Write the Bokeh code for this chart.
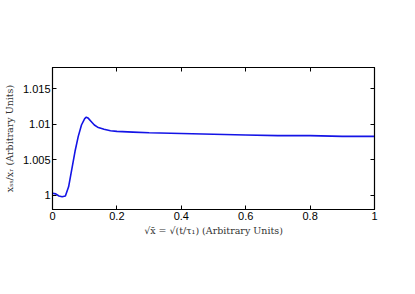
from bokeh.plotting import figure
from bokeh.models import FixedTicker, LinearAxis, Range1d
from bokeh.embed import file_html
from bokeh.resources import INLINE

x_vals = [0, 0.01, 0.02, 0.03, 0.04, 0.05, 0.06, 0.07, 0.08, 0.09, 0.10, 0.105, 0.11,
          0.12, 0.13, 0.14, 0.16, 0.18, 0.2, 0.25, 0.3, 0.4, 0.5, 0.6, 0.7, 0.8, 0.9, 1.0]
y_vals = [1.0003, 1.0002, 0.9999, 0.9998, 0.9999, 1.0012, 1.0037, 1.0062, 1.0083, 1.0099,
          1.0108, 1.0110, 1.0109, 1.0104, 1.0099, 1.0096, 1.0093, 1.0091, 1.0090, 1.0089,
          1.0088, 1.0087, 1.0086, 1.0085, 1.0084, 1.0084, 1.0083, 1.0083]
x_ticks = [0, 0.2, 0.4, 0.6, 0.8, 1.0]
x_tick_labels = ["0", "0.2", "0.4", "0.6", "0.8", "1"]
y_ticks = [1.0, 1.005, 1.01, 1.015]
y_tick_labels = ["1", "1.005", "1.01", "1.015"]

p = figure(width=399, height=278, output_backend="svg", toolbar_location=None,
           x_range=Range1d(0, 1), y_range=Range1d(0.998, 1.018),
           min_border_left=51, min_border_right=25, min_border_top=67, min_border_bottom=69)
p.grid.visible = False
p.outline_line_color = "black"
p.outline_line_width = 1.2
p.background_fill_color = "white"
p.border_fill_color = "white"

p.line(x_vals, y_vals, line_color="#1414e6", line_width=1.6)

for ax, ticks, labels in ((p.xaxis[0], x_ticks, x_tick_labels), (p.yaxis[0], y_ticks, y_tick_labels)):
    ax.ticker = FixedTicker(ticks=ticks)
    ax.major_label_overrides = {t: l for t, l in zip(ticks, labels)}
    ax.major_tick_in = 4
    ax.major_tick_out = 0
    ax.minor_tick_in = 0
    ax.minor_tick_out = 0
    ax.axis_line_color = "black"
    ax.major_label_text_font = "Liberation Sans"
    ax.major_label_text_font_size = "11px"
    ax.major_label_text_color = "black"
    ax.axis_label_text_font = "DejaVu Serif"
    ax.axis_label_text_font_style = "normal"
    ax.axis_label_text_font_size = "9.5px"
    ax.axis_label_text_color = "#333333"

p.xaxis[0].axis_label = "\u221Ax\u0304 = \u221A(t/\u03C4\u2081) (Arbitrary Units)"
p.xaxis[0].major_label_standoff = 2
p.xaxis[0].axis_label_standoff = 2
p.yaxis[0].axis_label = "x\u209B\u209B/x\u1D63 (Arbitrary Units)"
p.yaxis[0].major_label_standoff = 2
p.yaxis[0].axis_label_standoff = 5

top = LinearAxis(ticker=FixedTicker(ticks=x_ticks), major_label_overrides={t: "" for t in x_ticks},
                 major_tick_in=4, major_tick_out=0, minor_tick_in=0, minor_tick_out=0,
                 major_label_standoff=0)
right = LinearAxis(ticker=FixedTicker(ticks=y_ticks), major_label_overrides={t: "" for t in y_ticks},
                   major_tick_in=4, major_tick_out=0, minor_tick_in=0, minor_tick_out=0,
                   major_label_standoff=0)
p.add_layout(top, "above")
p.add_layout(right, "right")

open("out.html", "w").write(file_html(p, INLINE))
